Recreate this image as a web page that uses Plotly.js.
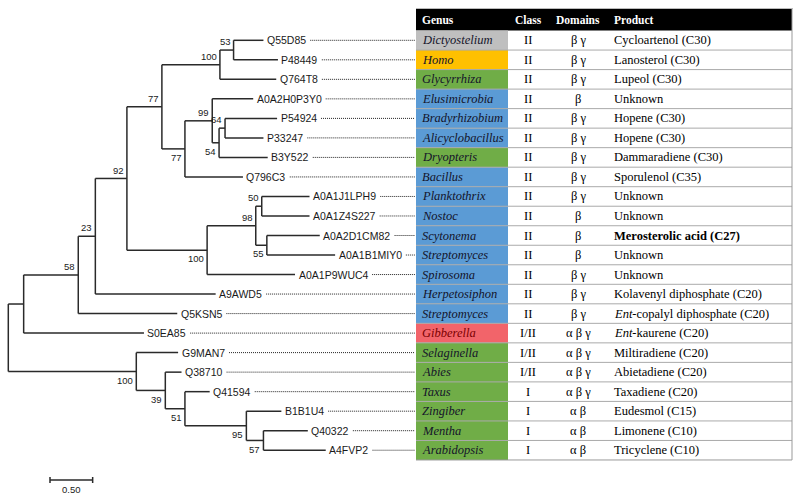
<!DOCTYPE html>
<html><head><meta charset="utf-8">
<script src="https://cdn.plot.ly/plotly-3.0.1.min.js"></script>
<style>html,body{margin:0;padding:0;background:#fff}#chart{width:800px;height:501px}</style>
</head><body><div id="chart"></div>
<script>
// ---------------- DATA ----------------
// Leaves, top to bottom, with parent node and branch length (substitutions/site)
const leafNames  = ['Q55D85','P48449','Q764T8','A0A2H0P3Y0','P54924','P33247','B3Y522','Q796C3',
  'A0A1J1LPH9','A0A1Z4S227','A0A2D1CM82','A0A1B1MIY0','A0A1P9WUC4','A9AWD5','Q5KSN5','S0EA85',
  'G9MAN7','Q38710','Q41594','B1B1U4','Q40322','A4FVP2'];
const leafParent = ['n53','n53','n100a','n99','n64','n64','n54','n77b',
  'n50','n50','n55','n55','n100b','n23','n58','n1',
  'n100c','n39','n51','n95','n57','n57'];
const leafBranch = [0.35,0.52,0.66,0.48,0.61,0.45,0.57,0.68,
  0.56,0.56,0.62,0.80,1.03,1.41,1.16,1.41,
  0.49,0.19,0.29,0.41,0.52,0.73];

// Internal nodes with parent, branch length and bootstrap support
const nodeNames   = ['root','n1','n58','n23','n92','n77a','n100a','n53','n77b','n99','n54','n64',
  'n100b','n98','n50','n55','n100c','n39','n51','n95','n57'];
const nodeParent  = [null,'root','n1','n58','n23','n92','n77a','n100a','n77a','n77b','n99','n54',
  'n92','n100b','n98','n98','root','n100c','n39','n51','n95'];
const nodeBranch  = [0,0.18,0.64,0.20,0.37,0.41,0.68,0.16,0.27,0.32,0.08,0.07,
  0.94,0.57,0.07,0.13,1.50,0.34,0.23,0.72,0.20];
const nodeSupport = [null,null,58,23,92,77,100,53,77,99,54,64,
  100,98,50,55,100,39,51,95,57];

// Table
const tableHeader = ['Genus','Class','Domains','Product'];
const genus = ['Dictyostelium','Homo','Glycyrrhiza','Elusimicrobia','Bradyrhizobium','Alicyclobacillus',
  'Dryopteris','Bacillus','Planktothrix','Nostoc','Scytonema','Streptomyces','Spirosoma','Herpetosiphon',
  'Streptomyces','Gibberella','Selaginella','Abies','Taxus','Zingiber','Mentha','Arabidopsis'];
const genusGroup = ['amoeba','animal','plant','bacteria','bacteria','bacteria','plant','bacteria',
  'bacteria','bacteria','bacteria','bacteria','bacteria','bacteria','bacteria','fungus',
  'plant','plant','plant','plant','plant','plant'];
const terpClass = ['II','II','II','II','II','II','II','II','II','II','II','II','II','II','II',
  'I/II','I/II','I/II','I','I','I','I'];
const domains = ['β γ','β γ','β γ','β','β γ','β γ','β γ','β γ','β γ','β','β','β','β γ','β γ','β γ',
  'α β γ','α β γ','α β γ','α β γ','α β','α β','α β'];
const product = ['Cycloartenol (C30)','Lanosterol (C30)','Lupeol (C30)','Unknown','Hopene (C30)',
  'Hopene (C30)','Dammaradiene (C30)','Sporulenol (C35)','Unknown','Unknown',
  '<b>Merosterolic acid (C27)</b>','Unknown','Unknown','Kolavenyl diphosphate (C20)',
  '<i>Ent</i>-copalyl diphosphate (C20)','<i>Ent</i>-kaurene (C20)','Miltiradiene (C20)',
  'Abietadiene (C20)','Taxadiene (C20)','Eudesmol (C15)','Limonene (C10)','Tricyclene (C10)'];
const scaleBarLength = 0.5;
const scaleBarLabel = '0.50';

// ---------------- STYLE / LAYOUT CONSTANTS ----------------
const groupColor = {amoeba:'#BFBFBF', animal:'#FFC000', plant:'#70AD47', bacteria:'#5B9BD5', fungus:'#F2646A'};
const PX_PER_UNIT = 85.33, ROOT_PX = 8.3, ROW0_PX = 40.3, ROW_PX = 19.52;
const W = 800, H = 501;
const px2x = p => (p - ROOT_PX) / PX_PER_UNIT;
const py2y = p => (p - ROW0_PX) / ROW_PX;
const TREE_COLOR = '#2a2a2a';
const SANS = "'Liberation Sans', Arial, sans-serif";
const SERIF = "'Liberation Serif', 'Times New Roman', serif";
const TBL_L = 416, GENUS_R = 508, CLASS_C = 528, DOM_C = 578, PROD_L = 613, TBL_R = 792;

// ---------------- TREE GEOMETRY ----------------
const parent = {}, blen = {}, children = {};
nodeNames.forEach((n,i) => { parent[n] = nodeParent[i]; blen[n] = nodeBranch[i]; });
leafNames.forEach((n,i) => { parent[n] = leafParent[i]; blen[n] = leafBranch[i]; });
Object.keys(parent).forEach(n => { const p = parent[n]; if (p) (children[p] = children[p] || []).push(n); });
const depth = {};
function getDepth(n){ if (depth[n] !== undefined) return depth[n]; const p = parent[n]; depth[n] = p ? getDepth(p) + blen[n] : 0; return depth[n]; }
Object.keys(parent).forEach(getDepth);
const yPos = {};
leafNames.forEach((n,i) => yPos[n] = i);
function getY(n){ if (yPos[n] !== undefined) return yPos[n]; const ys = children[n].map(getY); yPos[n] = (Math.min(...ys)+Math.max(...ys))/2; return yPos[n]; }
getY('root');

const lx = [], ly = [];
Object.keys(parent).forEach(n => {
  const p = parent[n];
  if (p) { lx.push(depth[p], depth[n], null); ly.push(yPos[n], yPos[n], null); }
  if (children[n]) {
    const ys = children[n].map(c => yPos[c]);
    lx.push(depth[n], depth[n], null); ly.push(Math.min(...ys), Math.max(...ys), null);
  }
});

// text measure
const ctx = document.createElement('canvas').getContext('2d');
ctx.font = "10.5px 'Liberation Sans'";

const annotations = [];
const dotX = [], dotY = [];
leafNames.forEach((n,i) => {
  annotations.push({x: depth[n], y: i, text: n, xref:'x', yref:'y', xanchor:'left', yanchor:'middle',
    showarrow:false, xshift:1.5, font:{family:SANS, size:10.5, color:'#1a1a1a'}});
  const endPx = ROOT_PX + depth[n]*PX_PER_UNIT + 3.7 + ctx.measureText(n).width + 4;
  dotX.push(px2x(endPx), px2x(TBL_L - 1), null); dotY.push(i, i, null);
});

nodeNames.forEach((n,i) => {
  const s = nodeSupport[i];
  if (s === null) return;
  const sib = children[parent[n]].map(c => yPos[c]);
  const above = yPos[n] === Math.min(...sib);
  annotations.push({x: depth[n], y: yPos[n] + (above ? -8.3 : 8.7)/ROW_PX, text: String(s), xref:'x', yref:'y',
    xanchor:'right', yanchor:'middle', showarrow:false, xshift:-1,
    font:{family:SANS, size:9.5, color:'#1a1a1a'}});
});

// scale bar
const sbX0 = px2x(50), sbY = py2y(480);
const sbx = [sbX0, sbX0 + scaleBarLength, null, sbX0, sbX0, null, sbX0 + scaleBarLength, sbX0 + scaleBarLength];
const sby = [sbY, sbY, null, sbY - 3/ROW_PX, sbY + 3/ROW_PX, null, sbY - 3/ROW_PX, sbY + 3/ROW_PX];
annotations.push({x: sbX0 + scaleBarLength/2, y: py2y(489), text: scaleBarLabel, xref:'x', yref:'y',
  xanchor:'center', yanchor:'middle', showarrow:false, font:{family:SANS, size:9.5, color:'#1a1a1a'}});

// ---------------- TABLE ----------------
const shapes = [];
const hdrTop = py2y(9), hdrBot = -0.5;
shapes.push({type:'rect', xref:'x', yref:'y', x0:px2x(TBL_L), x1:px2x(TBL_R), y0:hdrTop, y1:hdrBot,
  fillcolor:'#000', line:{width:0}});
shapes.push({type:'line', xref:'x', yref:'y', x0:px2x(TBL_L), x1:px2x(TBL_R+1), y0:py2y(8.5), y1:py2y(8.5),
  line:{color:'#BBBBBB', width:1}});
genus.forEach((g,i) => {
  shapes.push({type:'rect', xref:'x', yref:'y', x0:px2x(TBL_L), x1:px2x(GENUS_R), y0:i-0.5, y1:i+0.5,
    fillcolor:groupColor[genusGroup[i]], line:{width:0}});
});
genus.forEach((g,i) => {
  shapes.push({type:'line', xref:'x', yref:'y', x0:px2x(TBL_L), x1:px2x(TBL_R), y0:i+0.5, y1:i+0.5,
    line:{color: i === genus.length-1 ? '#999999' : '#AAAAAA', width:1}});
});
shapes.push({type:'line', xref:'x', yref:'y', x0:px2x(TBL_R), x1:px2x(TBL_R), y0:hdrTop, y1:genus.length-0.5,
  line:{color:'#999999', width:1}});

const hdrY = (hdrTop + hdrBot)/2;
const hdrFont = {family:SERIF, size:11.5, color:'#fff'};
annotations.push({x:px2x(TBL_L+4), y:hdrY, text:'<b>'+tableHeader[0]+'</b>', xanchor:'left', yanchor:'middle', showarrow:false, font:hdrFont});
annotations.push({x:px2x(CLASS_C), y:hdrY, text:'<b>'+tableHeader[1]+'</b>', xanchor:'center', yanchor:'middle', showarrow:false, font:hdrFont});
annotations.push({x:px2x(DOM_C), y:hdrY, text:'<b>'+tableHeader[2]+'</b>', xanchor:'center', yanchor:'middle', showarrow:false, font:hdrFont});
annotations.push({x:px2x(PROD_L-1), y:hdrY, text:'<b>'+tableHeader[3]+'</b>', xanchor:'left', yanchor:'middle', showarrow:false, font:hdrFont});

genus.forEach((g,i) => {
  const col = genusGroup[i] === 'fungus' ? '#7A0000' : '#14142a';
  annotations.push({x:px2x(TBL_L+4), y:i, text:'<i>'+g+'</i>', xanchor:'left', yanchor:'middle', showarrow:false,
    font:{family:SERIF, size:12.5, color:col}});
  annotations.push({x:px2x(CLASS_C), y:i, text:terpClass[i], xanchor:'center', yanchor:'middle', showarrow:false,
    font:{family:SERIF, size:12.5, color:'#000'}});
  annotations.push({x:px2x(DOM_C), y:i, text:domains[i], xanchor:'center', yanchor:'middle', showarrow:false,
    font:{family:SERIF, size:12.5, color:'#000'}});
  annotations.push({x:px2x(PROD_L-1), y:i, text:product[i], xanchor:'left', yanchor:'middle', showarrow:false,
    font:{family:SERIF, size:12.5, color:'#000'}});
});
annotations.forEach(a => { a.xref = a.xref || 'x'; a.yref = a.yref || 'y'; });

const traces = [
  {type:'scatter', mode:'lines', x:dotX, y:dotY, line:{color:'#222', width:1, dash:'1px,1px'}, hoverinfo:'skip'},
  {type:'scatter', mode:'lines', x:lx, y:ly, line:{color:TREE_COLOR, width:1.5}, hoverinfo:'skip'},
  {type:'scatter', mode:'lines', x:sbx, y:sby, line:{color:TREE_COLOR, width:1.5}, hoverinfo:'skip'}
];

const layout = {
  width:W, height:H, margin:{l:0,r:0,t:0,b:0}, showlegend:false,
  paper_bgcolor:'#fff', plot_bgcolor:'#fff',
  xaxis:{range:[px2x(0), px2x(W)], visible:false, fixedrange:true},
  yaxis:{range:[py2y(H), py2y(0)], visible:false, fixedrange:true},
  shapes, annotations
};
Plotly.newPlot('chart', traces, layout, {staticPlot:true, displayModeBar:false});
</script></body></html>
